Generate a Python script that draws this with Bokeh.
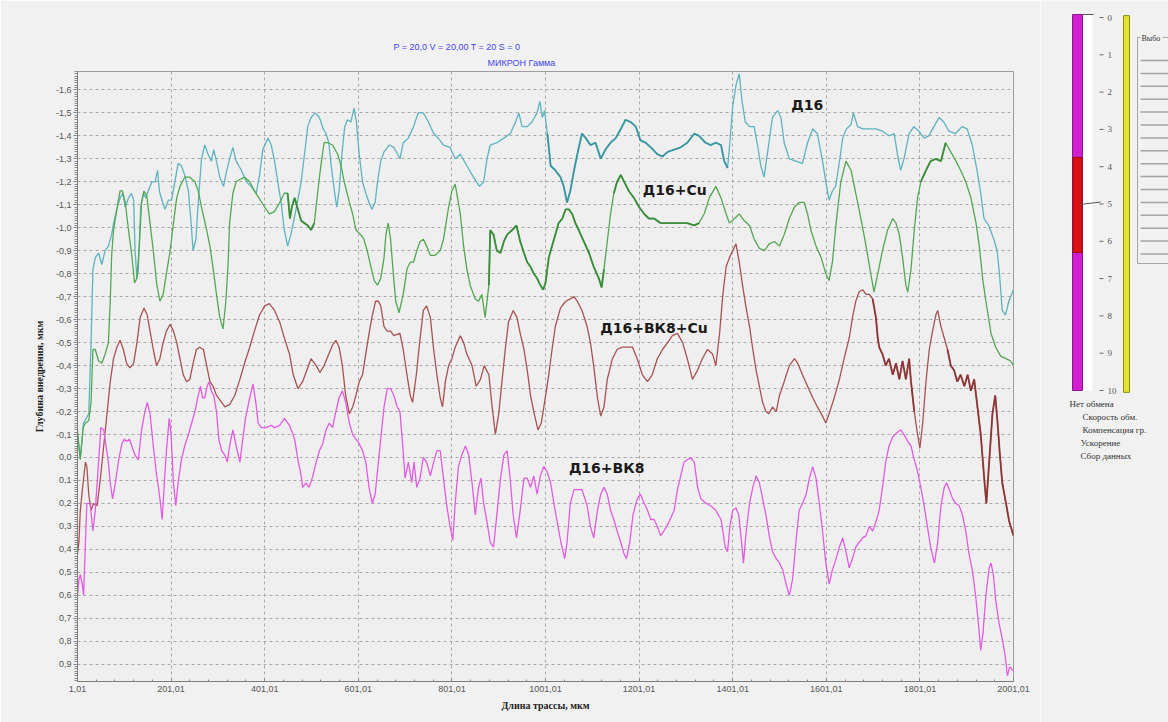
from bokeh.plotting import figure
from bokeh.models import Range1d, FixedTicker, Title, Label
from bokeh.layouts import row
from bokeh.embed import file_html
from bokeh.resources import INLINE
from bokeh.core.properties import value

# ---------------------------------------------------------------------------
# Indentation-depth profiles along the scratch track (x in um, depth in um)
# ---------------------------------------------------------------------------
D16 = [(1.01,-0.10),(7,0.00),(14,-0.15),(25,-0.19),(30,-0.50),(34,-0.82),(39,-0.87),(46,-0.89),(53,-0.84),(60,-0.90),
       (67,-0.92),(74,-0.97),(78,-1.02),(85,-1.08),(92,-1.13),(98,-1.15),(103,-1.09),(110,-1.13),(116,-1.15),(121,-1.12),
       (124,-0.90),(128,-0.78),(131,-0.82),(136,-1.09),(142,-1.15),(147,-1.13),(152,-1.16),(160,-1.20),(167,-1.20),(172,-1.25),
       (176,-1.16),(183,-1.11),(188,-1.08),(195,-1.12),(202,-1.12),(209,-1.20),(216,-1.28),(223,-1.27),(230,-1.23),(238,-1.16),
       (243,-1.04),(248,-0.90),(254,-0.95),(259,-1.11),(266,-1.30),(273,-1.36),(280,-1.32),(287,-1.29),(292,-1.34),(298,-1.29),
       (305,-1.22),(313,-1.18),(320,-1.25),(326,-1.30),(333,-1.35),(340,-1.29),(351,-1.25),(362,-1.20),(372,-1.18),(383,-1.15),
       (390,-1.23),(397,-1.34),(408,-1.39),(415,-1.36),(422,-1.29),(429,-1.20),(436,-1.11),(443,-0.99),(450,-0.92),(457,-0.97),
       (468,-1.08),(479,-1.20),(486,-1.32),(493,-1.44),(500,-1.48),(509,-1.50),(518,-1.48),(526,-1.43),(532,-1.41),(538,-1.37),
       (543,-1.27),(550,-1.16),(555,-1.09),(560,-1.16),(566,-1.32),(572,-1.44),(578,-1.47),(585,-1.46),(592,-1.52),(597,-1.46),
       (603,-1.32),(610,-1.20),(617,-1.15),(624,-1.11),(630,-1.08),(637,-1.11),(642,-1.20),(649,-1.29),(656,-1.33),(667,-1.36),
       (677,-1.35),(690,-1.30),(697,-1.37),(708,-1.39),(719,-1.44),(729,-1.50),(740,-1.50),(751,-1.46),(762,-1.41),(772,-1.39),
       (783,-1.36),(797,-1.35),(808,-1.30),(819,-1.32),(833,-1.27),(847,-1.22),(860,-1.18),(869,-1.20),(876,-1.30),(883,-1.36),
       (897,-1.37),(912,-1.39),(926,-1.41),(937,-1.46),(944,-1.50),(951,-1.44),(962,-1.44),(972,-1.46),(983,-1.50),(989,-1.55),
       (994,-1.48),(999,-1.51),(1005,-1.41),(1012,-1.27),(1022,-1.25),(1033,-1.22),(1040,-1.18),(1047,-1.11),(1054,-1.16),(1062,-1.25),
       (1069,-1.32),(1079,-1.41),(1087,-1.39),(1097,-1.36),(1108,-1.37),(1119,-1.30),(1129,-1.34),(1140,-1.37),(1151,-1.39),(1162,-1.43),
       (1172,-1.47),(1183,-1.46),(1194,-1.44),(1204,-1.38),(1215,-1.37),(1226,-1.35),(1240,-1.32),(1251,-1.31),(1262,-1.33),(1276,-1.34),
       (1290,-1.35),(1304,-1.37),(1319,-1.41),(1329,-1.40),(1343,-1.37),(1354,-1.36),(1365,-1.37),(1376,-1.36),(1383,-1.29),(1390,-1.26),
       (1395,-1.37),(1401,-1.53),(1408,-1.62),(1415,-1.67),(1421,-1.55),(1428,-1.46),(1437,-1.44),(1447,-1.44),(1454,-1.36),(1461,-1.27),
       (1468,-1.22),(1475,-1.32),(1486,-1.48),(1497,-1.51),(1504,-1.48),(1511,-1.37),(1522,-1.30),(1536,-1.29),(1550,-1.28),(1561,-1.37),
       (1572,-1.43),(1582,-1.41),(1593,-1.29),(1600,-1.20),(1607,-1.12),(1614,-1.16),(1621,-1.18),(1630,-1.30),(1636,-1.39),(1644,-1.43),
       (1654,-1.45),(1659,-1.50),(1668,-1.44),(1679,-1.43),(1693,-1.43),(1707,-1.43),(1721,-1.42),(1735,-1.40),(1746,-1.41),(1753,-1.32),
       (1760,-1.25),(1767,-1.30),(1778,-1.41),(1788,-1.44),(1799,-1.42),(1810,-1.39),(1820,-1.40),(1831,-1.44),(1842,-1.48),(1852,-1.46),
       (1863,-1.42),(1877,-1.41),(1891,-1.44),(1902,-1.43),(1913,-1.36),(1923,-1.25),(1931,-1.15),(1938,-1.04),(1948,-1.01),(1959,-0.95),
       (1966,-0.90),(1971,-0.80),(1977,-0.64),(1984,-0.62),(1991,-0.68),(2001.01,-0.73)]

D16_CU = [(1.01,-0.12),(4,-0.05),(7,0.01),(13,-0.13),(18,-0.15),(25,-0.16),(30,-0.24),(34,-0.47),(39,-0.47),(46,-0.42),
          (53,-0.41),(60,-0.45),(67,-0.50),(71,-0.68),(74,-0.88),(78,-0.99),(85,-1.08),(92,-1.16),(97,-1.16),(103,-1.11),
          (110,-0.99),(117,-0.88),(123,-0.76),(128,-0.78),(133,-0.92),(138,-1.11),(143,-1.16),(149,-1.14),(156,-1.02),(163,-0.90),
          (170,-0.76),(177,-0.68),(184,-0.71),(191,-0.80),(199,-0.90),(206,-1.02),(213,-1.13),(220,-1.18),(230,-1.22),(241,-1.22),
          (252,-1.20),(259,-1.16),(266,-1.09),(277,-0.99),(284,-0.92),(291,-0.82),(298,-0.71),(305,-0.61),(312,-0.56),(318,-0.68),
          (323,-0.85),(326,-1.02),(333,-1.15),(340,-1.20),(348,-1.21),(358,-1.22),(369,-1.20),(379,-1.16),(401,-1.09),(411,-1.06),
          (422,-1.07),(433,-1.11),(443,-1.15),(450,-1.15),(455,-1.04),(459,-1.09),(465,-1.13),(472,-1.08),(479,-1.03),(486,-1.02),
          (493,-1.01),(500,-0.99),(507,-1.02),(514,-1.15),(521,-1.27),(528,-1.37),(535,-1.37),(546,-1.36),(557,-1.32),(564,-1.27),
          (571,-1.20),(582,-1.11),(589,-1.06),(596,-0.99),(606,-0.97),(613,-0.95),(620,-0.90),(628,-0.83),(635,-0.77),(642,-0.75),
          (649,-0.78),(656,-0.87),(660,-0.97),(665,-1.02),(670,-0.95),(675,-0.82),(681,-0.68),(688,-0.63),(697,-0.71),(705,-0.82),
          (712,-0.85),(719,-0.85),(726,-0.90),(733,-0.94),(740,-0.95),(747,-0.92),(755,-0.88),(765,-0.88),(776,-0.90),(783,-0.95),
          (794,-1.09),(801,-1.16),(808,-1.19),(819,-1.06),(826,-0.92),(833,-0.82),(840,-0.75),(851,-0.69),(858,-0.68),(865,-0.71),
          (872,-0.61),(880,-0.75),(883,-0.99),(890,-0.97),(897,-0.90),(905,-0.89),(912,-0.94),(919,-0.97),(930,-0.99),(939,-1.01),
          (947,-0.94),(955,-0.89),(962,-0.85),(969,-0.83),(976,-0.80),(983,-0.78),(990,-0.75),(996,-0.73),(1001,-0.76),(1008,-0.87),
          (1015,-0.92),(1022,-0.97),(1029,-1.02),(1037,-1.04),(1044,-1.08),(1051,-1.08),(1058,-1.06),(1065,-1.02),(1072,-0.99),(1083,-0.94),
          (1094,-0.89),(1104,-0.83),(1115,-0.78),(1121,-0.74),(1126,-0.82),(1133,-0.94),(1140,-1.06),(1147,-1.15),(1154,-1.20),(1162,-1.23),
          (1169,-1.20),(1179,-1.16),(1190,-1.13),(1201,-1.09),(1212,-1.06),(1222,-1.04),(1233,-1.04),(1247,-1.02),(1262,-1.02),(1276,-1.02),
          (1290,-1.02),(1304,-1.02),(1319,-1.01),(1329,-1.02),(1340,-1.06),(1351,-1.13),(1365,-1.18),(1376,-1.13),(1387,-1.06),(1394,-1.02),
          (1405,-1.04),(1415,-1.06),(1426,-1.03),(1437,-1.01),(1447,-0.95),(1458,-0.91),(1469,-0.90),(1479,-0.93),(1490,-0.94),(1501,-0.92),
          (1511,-0.97),(1522,-1.04),(1533,-1.09),(1543,-1.11),(1554,-1.11),(1561,-1.06),(1568,-0.99),(1579,-0.92),(1590,-0.87),(1600,-0.80),
          (1607,-0.77),(1614,-0.85),(1622,-1.02),(1632,-1.20),(1643,-1.29),(1654,-1.25),(1664,-1.15),(1675,-1.04),(1686,-0.92),(1696,-0.80),
          (1703,-0.72),(1711,-0.80),(1721,-0.90),(1732,-0.99),(1743,-1.04),(1750,-1.02),(1757,-0.97),(1764,-0.87),(1771,-0.75),(1775,-0.72),
          (1782,-0.82),(1789,-0.99),(1796,-1.13),(1803,-1.20),(1814,-1.25),(1824,-1.29),(1835,-1.30),(1846,-1.29),(1856,-1.37),(1867,-1.33),
          (1878,-1.29),(1888,-1.25),(1899,-1.20),(1910,-1.13),(1921,-1.02),(1928,-0.92),(1935,-0.78),(1942,-0.68),(1953,-0.54),(1963,-0.48),
          (1974,-0.44),(1985,-0.43),(1995,-0.42),(2001.01,-0.40)]

D16_BK8_CU = [(1.01,0.42),(4,0.37),(7,0.23),(13,0.11),(18,0.02),(21,0.04),(25,0.16),(30,0.23),(35,0.20),(43,0.21),
              (50,0.09),(57,-0.05),(64,-0.19),(71,-0.33),(78,-0.43),(85,-0.48),(92,-0.51),(99,-0.47),(106,-0.41),(113,-0.39),
              (121,-0.41),(128,-0.50),(135,-0.61),(143,-0.65),(150,-0.62),(156,-0.55),(163,-0.47),(170,-0.40),(177,-0.43),(184,-0.50),
              (191,-0.55),(199,-0.58),(206,-0.55),(213,-0.50),(220,-0.43),(227,-0.36),(234,-0.33),(241,-0.34),(248,-0.41),(255,-0.47),
              (262,-0.48),(270,-0.47),(277,-0.40),(284,-0.33),(291,-0.31),(298,-0.27),(309,-0.24),(316,-0.22),(326,-0.23),(337,-0.27),
              (348,-0.34),(358,-0.41),(369,-0.48),(379,-0.55),(390,-0.62),(401,-0.66),(411,-0.67),(422,-0.64),(433,-0.59),(443,-0.52),
              (454,-0.45),(462,-0.36),(472,-0.30),(482,-0.33),(491,-0.38),(500,-0.43),(511,-0.40),(519,-0.37),(528,-0.40),(538,-0.45),
              (546,-0.49),(553,-0.51),(560,-0.48),(567,-0.40),(574,-0.27),(582,-0.19),(589,-0.22),(596,-0.27),(603,-0.33),(610,-0.36),
              (617,-0.45),(624,-0.54),(631,-0.62),(638,-0.68),(644,-0.68),(649,-0.66),(656,-0.57),(663,-0.55),(670,-0.55),(677,-0.53),
              (690,-0.54),(697,-0.47),(705,-0.36),(712,-0.27),(717,-0.24),(725,-0.36),(732,-0.50),(740,-0.64),(747,-0.66),(755,-0.61),
              (762,-0.47),(769,-0.36),(776,-0.26),(781,-0.22),(787,-0.33),(794,-0.40),(801,-0.43),(808,-0.48),(819,-0.53),(826,-0.50),
              (833,-0.45),(844,-0.40),(853,-0.31),(862,-0.34),(870,-0.40),(880,-0.36),(887,-0.22),(894,-0.10),(901,-0.19),(908,-0.33),
              (915,-0.47),(922,-0.59),(932,-0.64),(940,-0.61),(947,-0.54),(955,-0.47),(962,-0.38),(969,-0.27),(977,-0.19),(985,-0.12),
              (992,-0.15),(999,-0.24),(1008,-0.36),(1015,-0.47),(1022,-0.57),(1033,-0.65),(1044,-0.68),(1054,-0.69),(1062,-0.70),(1069,-0.68),
              (1079,-0.64),(1090,-0.57),(1097,-0.50),(1104,-0.40),(1112,-0.26),(1119,-0.18),(1126,-0.22),(1133,-0.34),(1144,-0.43),(1154,-0.47),
              (1165,-0.48),(1176,-0.48),(1187,-0.48),(1197,-0.43),(1208,-0.36),(1219,-0.33),(1229,-0.36),(1240,-0.43),(1251,-0.47),(1262,-0.50),
              (1272,-0.53),(1283,-0.54),(1294,-0.50),(1304,-0.43),(1315,-0.34),(1326,-0.38),(1336,-0.43),(1347,-0.47),(1358,-0.45),(1365,-0.40),
              (1373,-0.54),(1380,-0.71),(1387,-0.83),(1394,-0.87),(1401,-0.90),(1408,-0.93),(1415,-0.85),(1422,-0.75),(1429,-0.66),(1437,-0.57),
              (1444,-0.47),(1451,-0.38),(1458,-0.31),(1465,-0.24),(1472,-0.20),(1478,-0.19),(1486,-0.22),(1494,-0.20),(1501,-0.27),(1511,-0.33),
              (1522,-0.40),(1533,-0.43),(1540,-0.41),(1550,-0.36),(1561,-0.31),(1572,-0.26),(1582,-0.22),(1593,-0.18),(1600,-0.15),(1607,-0.19),
              (1618,-0.26),(1629,-0.34),(1639,-0.43),(1650,-0.52),(1657,-0.61),(1664,-0.68),(1671,-0.72),(1679,-0.73),(1686,-0.71),(1693,-0.71),
              (1700,-0.69),(1707,-0.61),(1711,-0.52),(1714,-0.48),(1721,-0.45),(1728,-0.40),(1735,-0.43),(1743,-0.36),(1750,-0.41),(1757,-0.34),
              (1764,-0.42),(1771,-0.34),(1778,-0.43),(1782,-0.33),(1789,-0.20),(1796,-0.10),(1801,-0.04),(1807,-0.15),(1814,-0.33),(1821,-0.47),
              (1828,-0.55),(1835,-0.62),(1839,-0.64),(1846,-0.57),(1853,-0.52),(1860,-0.47),(1867,-0.40),(1874,-0.38),(1881,-0.33),(1888,-0.36),
              (1896,-0.31),(1903,-0.36),(1910,-0.29),(1917,-0.34),(1924,-0.22),(1931,-0.10),(1938,0.08),(1943,0.20),(1949,0.02),(1956,-0.19),
              (1962,-0.27),(1967,-0.15),(1972,-0.01),(1977,0.11),(1985,0.20),(1992,0.28),(2001.01,0.34)]

D16_BK8 = [(1.01,0.60),(4,0.53),(7,0.51),(11,0.55),(14,0.60),(18,0.37),(21,0.20),(28,0.20),(34,0.32),(39,0.23),
           (46,0.02),(51,-0.13),(57,-0.12),(62,-0.05),(67,0.02),(71,0.11),(76,0.18),(82,0.11),(89,0.01),(96,-0.06),
           (101,-0.08),(106,-0.07),(112,-0.08),(117,-0.05),(124,-0.01),(131,0.01),(138,-0.12),(145,-0.20),(150,-0.24),(156,-0.19),
           (163,-0.05),(169,0.06),(176,0.16),(182,0.27),(186,0.13),(191,-0.03),(197,-0.17),(201,-0.10),(206,0.11),(211,0.21),
           (216,0.11),(223,0.01),(230,-0.05),(238,-0.10),(245,-0.15),(252,-0.20),(259,-0.27),(264,-0.31),(268,-0.26),(273,-0.26),
           (278,-0.31),(282,-0.33),(287,-0.29),(292,-0.27),(298,-0.20),(303,-0.08),(309,-0.03),(316,-0.01),(321,0.02),(326,-0.05),
           (333,-0.12),(340,-0.05),(348,0.02),(353,-0.06),(360,-0.17),(369,-0.26),(376,-0.32),(382,-0.24),(387,-0.15),(394,-0.13),
           (404,-0.13),(415,-0.14),(422,-0.13),(433,-0.14),(443,-0.17),(454,-0.14),(465,-0.08),(472,0.01),(479,0.08),(482,0.13),
           (489,0.11),(496,0.13),(504,0.08),(511,0.02),(518,-0.03),(525,-0.06),(532,-0.12),(539,-0.15),(546,-0.13),(553,-0.20),
           (560,-0.26),(567,-0.29),(574,-0.24),(582,-0.15),(589,-0.10),(596,-0.08),(603,-0.06),(610,-0.03),(617,0.02),(624,0.13),
           (631,0.20),(637,0.16),(642,0.06),(649,-0.08),(656,-0.22),(663,-0.30),(670,-0.30),(677,-0.27),(684,-0.22),(690,-0.20),
           (696,-0.05),(701,0.09),(708,0.02),(715,0.11),(720,0.02),(726,0.13),(733,0.09),(740,0.00),(747,0.02),(755,0.08),
           (762,0.02),(769,-0.03),(776,-0.03),(783,0.09),(790,0.21),(797,0.30),(803,0.36),(808,0.20),(815,0.04),(822,-0.01),
           (830,-0.05),(837,-0.01),(844,0.11),(851,0.25),(858,0.13),(863,0.09),(869,0.20),(876,0.28),(883,0.37),(890,0.39),
           (897,0.25),(905,0.09),(912,-0.01),(919,-0.03),(925,0.08),(932,0.25),(939,0.35),(947,0.23),(955,0.09),(962,0.09),
           (969,0.13),(976,0.08),(983,0.16),(990,0.08),(997,0.04),(1004,0.06),(1012,0.11),(1019,0.20),(1026,0.28),(1034,0.37),
           (1042,0.44),(1047,0.37),(1054,0.20),(1062,0.14),(1069,0.14),(1079,0.14),(1090,0.21),(1097,0.30),(1104,0.35),(1112,0.23),
           (1119,0.16),(1126,0.13),(1133,0.16),(1140,0.23),(1147,0.27),(1154,0.32),(1162,0.37),(1169,0.42),(1174,0.44),(1181,0.37),
           (1188,0.25),(1197,0.18),(1204,0.16),(1212,0.20),(1219,0.23),(1226,0.27),(1233,0.27),(1240,0.30),(1247,0.34),(1254,0.32),
           (1265,0.28),(1276,0.23),(1283,0.14),(1290,0.08),(1297,0.02),(1304,0.01),(1311,0.00),(1319,0.02),(1326,0.13),(1333,0.18),
           (1344,0.20),(1354,0.21),(1365,0.23),(1376,0.27),(1380,0.32),(1385,0.39),(1390,0.41),(1395,0.30),(1401,0.23),(1408,0.22),
           (1414,0.25),(1419,0.35),(1424,0.46),(1429,0.34),(1437,0.20),(1444,0.13),(1451,0.08),(1458,0.11),(1465,0.18),(1472,0.25),
           (1479,0.34),(1486,0.41),(1494,0.44),(1501,0.46),(1508,0.49),(1515,0.55),(1522,0.60),(1529,0.53),(1536,0.37),(1543,0.23),
           (1550,0.20),(1558,0.16),(1565,0.09),(1572,0.04),(1579,0.09),(1586,0.20),(1593,0.32),(1600,0.46),(1607,0.55),(1614,0.49),
           (1622,0.44),(1629,0.39),(1636,0.35),(1643,0.41),(1650,0.48),(1657,0.44),(1664,0.39),(1671,0.37),(1679,0.35),(1686,0.34),
           (1693,0.30),(1700,0.32),(1707,0.28),(1714,0.23),(1721,0.13),(1728,0.02),(1735,-0.05),(1743,-0.09),(1753,-0.11),(1760,-0.12),
           (1767,-0.10),(1775,-0.07),(1782,-0.05),(1789,0.01),(1796,0.06),(1803,0.13),(1810,0.21),(1817,0.30),(1824,0.39),(1832,0.46),
           (1839,0.37),(1846,0.21),(1853,0.13),(1858,0.11),(1864,0.14),(1871,0.18),(1878,0.20),(1885,0.21),(1892,0.25),(1899,0.32),
           (1906,0.42),(1913,0.49),(1920,0.60),(1926,0.72),(1931,0.84),(1936,0.76),(1942,0.60),(1949,0.48),(1953,0.46),(1958,0.51),
           (1963,0.62),(1970,0.72),(1977,0.79),(1983,0.86),(1988,0.95),(1993,0.91),(2001.01,0.93)]

# stretches where the trace is dense with fine jitter (drawn heavier)
D16_DENSE = [(1005, 1390)]
D16_CU_DENSE = [(450, 510), (880, 1130), (1145, 1335), (1800, 1865)]
D16_BK8_CU_DENSE = [(1700, 1790), (1860, 2001.01)]

SERIES = [
    ("Д16", D16, "#5db3bf", "#2b8f98", D16_DENSE),
    ("Д16+Cu", D16_CU, "#52a852", "#2f852f", D16_CU_DENSE),
    ("Д16+ВК8+Cu", D16_BK8_CU, "#a85252", "#862c2c", D16_BK8_CU_DENSE),
    ("Д16+ВК8", D16_BK8, "#e25ce2", "#e25ce2", []),
]

# curve name labels: (text, x, y)
NAME_LABELS = [("Д16", 1526, -1.50), ("Д16+Cu", 1209, -1.13),
               ("Д16+ВК8+Cu", 1118, -0.53), ("Д16+ВК8", 1051, 0.08)]

X_TICKS = [1.01, 201.01, 401.01, 601.01, 801.01, 1001.01, 1201.01, 1401.01, 1601.01, 1801.01, 2001.01]
X_TICK_LABELS = ["1,01", "201,01", "401,01", "601,01", "801,01", "1001,01", "1201,01",
                 "1401,01", "1601,01", "1801,01", "2001,01"]
Y_TICKS = [-1.6, -1.5, -1.4, -1.3, -1.2, -1.1, -1.0, -0.9, -0.8, -0.7, -0.6, -0.5, -0.4,
           -0.3, -0.2, -0.1, 0.0, 0.1, 0.2, 0.3, 0.4, 0.5, 0.6, 0.7, 0.8, 0.9]
Y_TICK_LABELS = ["-1,6", "-1,5", "-1,4", "-1,3", "-1,2", "-1,1", "-1,0", "-0,9", "-0,8", "-0,7",
                 "-0,6", "-0,5", "-0,4", "-0,3", "-0,2", "-0,1", "0,0", "0,1", "0,2", "0,3",
                 "0,4", "0,5", "0,6", "0,7", "0,8", "0,9"]

# side gauge: scale 0..10 with the highlighted band and the pointer value
GAUGE_TICKS = [0, 1, 2, 3, 4, 5, 6, 7, 8, 9, 10]
GAUGE_BAND = (3.75, 6.3)
GAUGE_POINTER = 5
STATUS_LINES = ["Нет обмена", "Скорость обм.", "Компенсация гр.", "Ускорение", "Сбор данных"]

BG = "#f1f1f1"

# ---------------------------------------------------------------------------
# main plot
# ---------------------------------------------------------------------------
p = figure(width=1040, height=722,
           x_range=Range1d(1.01, 2001.01), y_range=Range1d(0.975, -1.68),
           output_backend="svg", toolbar_location=None,
           min_border_left=77, min_border_right=27, min_border_top=71, min_border_bottom=41,
           background_fill_color="#efefef", border_fill_color=BG,
           outline_line_color="#9c9c9c", outline_line_width=1)
p.frame_align = False

p.add_layout(Title(text="МИКРОН Гамма", align="left", offset=410, standoff=8,
                   text_font="Liberation Sans", text_font_size="9px",
                   text_font_style="normal", text_color="#4646ee"), "above")
p.add_layout(Title(text="P = 20,0 V = 20,00 T = 20 S = 0", align="left", offset=316, standoff=0,
                   text_font="Liberation Sans", text_font_size="9px",
                   text_font_style="normal", text_color="#4646ee"), "above")

x_minor = [1.01 + 40 * i for i in range(51)]
y_minor = [round(-1.68 + 0.01 * i, 2) for i in range(266)]

p.xaxis.ticker = FixedTicker(ticks=X_TICKS, minor_ticks=x_minor)
p.xaxis.major_label_overrides = dict(zip(X_TICKS, X_TICK_LABELS))
p.yaxis.ticker = FixedTicker(ticks=Y_TICKS, minor_ticks=y_minor)
p.yaxis.major_label_overrides = dict(zip(Y_TICKS, Y_TICK_LABELS))

for ax in (p.xaxis[0], p.yaxis[0]):
    ax.axis_line_color = "#7c7c7c"
    ax.major_tick_line_color = "#7c7c7c"
    ax.minor_tick_line_color = "#8c8c8c"
    ax.major_label_text_font = "Liberation Sans"
    ax.major_label_text_font_size = "9px"
    ax.major_label_text_color = "#555555"
    ax.axis_label_text_font = "Liberation Serif"
    ax.axis_label_text_font_style = "bold"
    ax.axis_label_text_font_size = "10px"
    ax.axis_label_text_color = "#222222"

p.xaxis.major_tick_in = 3
p.xaxis.major_tick_out = 0
p.xaxis.minor_tick_in = 2
p.xaxis.minor_tick_out = 0
p.xaxis.major_label_standoff = 4
p.xaxis.axis_label = "Длина трассы, мкм"
p.xaxis.axis_label_standoff = 5

p.yaxis.major_tick_in = 0
p.yaxis.major_tick_out = 4
p.yaxis.minor_tick_in = 0
p.yaxis.minor_tick_out = 3
p.yaxis.major_label_standoff = 2
p.yaxis.axis_label = "Глубина внедрения, мкм"
p.yaxis.axis_label_standoff = 8

p.xgrid.ticker = FixedTicker(ticks=X_TICKS)
p.ygrid.ticker = FixedTicker(ticks=Y_TICKS)
for g in (p.xgrid[0], p.ygrid[0]):
    g.grid_line_color = "#a8a8a8"
    g.grid_line_dash = "3 3"
    g.grid_line_width = 1


def part(points, lo, hi):
    sel = [pt for pt in points if lo <= pt[0] <= hi]
    return [pt[0] for pt in sel], [pt[1] for pt in sel]


for name, pts, color, dark, dense in SERIES:
    xs = [pt[0] for pt in pts]
    ys = [pt[1] for pt in pts]
    p.line(xs, ys, line_color=color, line_width=1.3)
    for lo, hi in dense:
        dx, dy = part(pts, lo, hi)
        p.line(dx, dy, line_color=dark, line_width=1.9, line_alpha=0.8)

for text, lx, ly in NAME_LABELS:
    p.add_layout(Label(x=lx, y=ly, text=text, text_font="DejaVu Sans",
                       text_font_style="bold", text_font_size="14px",
                       text_color="#1a1a1a"))

# ---------------------------------------------------------------------------
# side gauge panel (pixel-based coordinate frame)
# ---------------------------------------------------------------------------
q = figure(width=128, height=722, x_range=Range1d(0, 128), y_range=Range1d(722, 0),
           output_backend="svg", toolbar_location=None,
           x_axis_location=None, y_axis_location=None, min_border=0,
           background_fill_color=BG, border_fill_color=BG, outline_line_color=None)
q.frame_align = False
q.grid.visible = False

g0, step = 17.0, 37.3
gy = lambda v: g0 + v * step

# scale bar with its white strip
q.quad(left=[42], right=[52], top=[gy(-0.08)], bottom=[gy(10.0)], fill_color="white", line_color=None)
q.quad(left=[32], right=[42], top=[gy(-0.08)], bottom=[gy(10.0)],
       fill_color="#d01fd0", line_color="#8c168c", line_width=1)
q.quad(left=[32.5], right=[41.5], top=[gy(GAUGE_BAND[0])], bottom=[gy(GAUGE_BAND[1])],
       fill_color="#dc1010", line_color="#a00c0c", line_width=1)
q.segment(x0=[42], y0=[gy(-0.08)], x1=[53], y1=[gy(-0.08)], line_color="#555555", line_width=1)
q.segment(x0=[40], y0=[gy(GAUGE_POINTER) + 0.5], x1=[60], y1=[gy(GAUGE_POINTER) - 2],
          line_color="#555555", line_width=1)

q.segment(x0=[59] * len(GAUGE_TICKS), y0=[gy(v) for v in GAUGE_TICKS],
          x1=[63] * len(GAUGE_TICKS), y1=[gy(v) for v in GAUGE_TICKS],
          line_color="#666666", line_width=1)
q.text(x=[67] * len(GAUGE_TICKS), y=[gy(v) for v in GAUGE_TICKS], text=[str(v) for v in GAUGE_TICKS],
       text_font=value("Liberation Serif"), text_font_size="9px", text_color="#555555",
       text_baseline="middle", text_align="left")

# yellow activity bar
q.quad(left=[83], right=[89], top=[gy(-0.05)], bottom=[gy(10.05)],
       fill_color="#e4e42c", line_color="#8a8a1c", line_width=1)

# selection box with list rows
q.quad(left=[97], right=[140], top=[37], bottom=[263], fill_color=None,
       line_color="#a6a6a6", line_width=1)
rows_y = [60 + 12.9 * k for k in range(16)]
q.segment(x0=[100] * len(rows_y), y0=rows_y, x1=[130] * len(rows_y), y1=rows_y,
          line_color="#a4a4a4", line_width=1.5)
q.quad(left=[100], right=[122], top=[33], bottom=[42], fill_color=BG, line_color=None)
q.text(x=[101], y=[37.5], text=["Выбо"], text_font=value("Liberation Serif"),
       text_font_size="8px", text_color="#333333", text_baseline="middle", text_align="left")

status_x = [29, 42, 42, 40, 40]
status_y = [403, 416, 429, 442, 455]
q.text(x=status_x, y=status_y, text=STATUS_LINES, text_font=value("Liberation Serif"),
       text_font_size="9px", text_color="#333333", text_baseline="middle", text_align="left")

layout = row(p, q)
open("out.html", "w").write(file_html(layout, INLINE))
